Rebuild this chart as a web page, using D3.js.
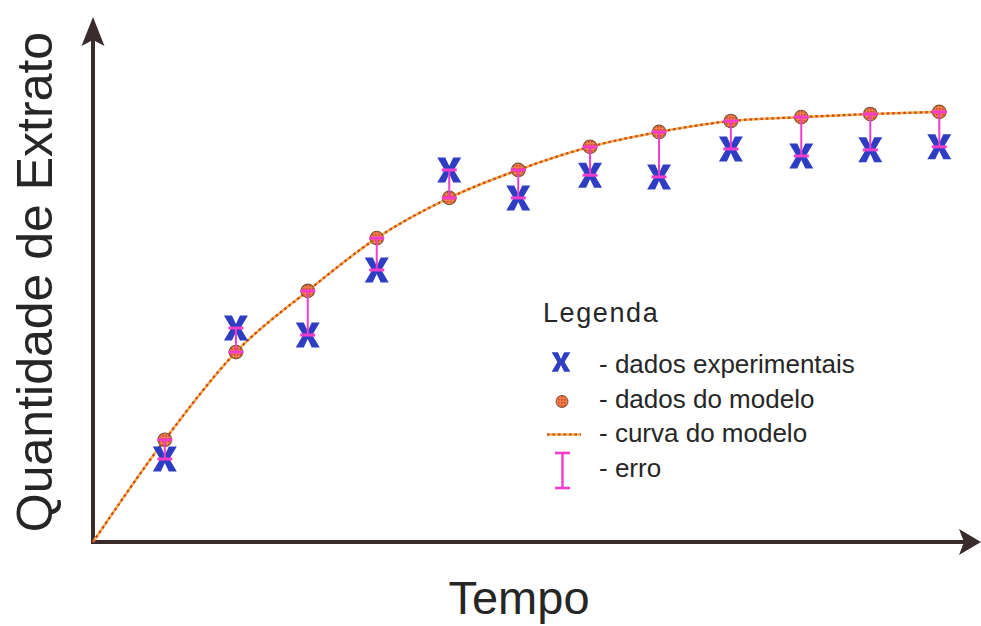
<!DOCTYPE html>
<html>
<head>
<meta charset="utf-8">
<script src="https://cdn.jsdelivr.net/npm/d3@7"></script>
<style>
  html, body { margin: 0; padding: 0; background: #fff; }
  svg { display: block; font-family: "Liberation Sans", Arial, Helvetica, sans-serif; }
</style>
</head>
<body>
<svg id="chart" width="981" height="626"></svg>
<script>
// Sample times (arbitrary time units)
const times = [1.02, 2.03, 3.05, 4.03, 5.06, 6.04, 7.06, 8.04, 9.06, 10.06, 11.04, 12.02];
// Extract quantity predicted by the model
const modelValues = [23.4, 43.5, 57.5, 69.6, 78.8, 85.2, 90.5, 93.9, 96.4, 97.3, 98.0, 98.5];
// Measured extract quantity
const experimentalValues = [19.0, 49.0, 47.4, 62.3, 85.2, 78.8, 84.0, 83.6, 90.0, 88.4, 89.8, 90.5];

const xLabel = "Tempo";
const yLabel = "Quantidade de Extrato";
const legendTitle = "Legenda";
const legendLabels = ["- dados experimentais", "- dados do modelo", "- curva do modelo", "- erro"];

const xMax = 12.57, yMax = 120;

const svg = d3.select("#chart");
const width = 981, height = 626;
svg.append("rect").attr("width", width).attr("height", height).attr("fill", "#fff");

const x = d3.scaleLinear().domain([0, xMax]).range([93, 978]);
const y = d3.scaleLinear().domain([0, yMax]).range([542, 18]);

const axisColor = "#3a2c2c";
const blue = "#2f3dc2";
const pink = "#f23ccb";

// Fill texture for model points
const defs = svg.append("defs");
const pat = defs.append("pattern").attr("id", "dots")
  .attr("width", 3).attr("height", 3).attr("patternUnits", "userSpaceOnUse");
pat.append("rect").attr("width", 3).attr("height", 3).attr("fill", "#f0804c");
pat.append("rect").attr("width", 1.6).attr("height", 1.6).attr("fill", "#d0462a");

// Axes: plain lines without ticks, arrow heads at the ends
const xAxis = d3.axisBottom(x).tickValues([]).tickSizeOuter(0);
const yAxis = d3.axisLeft(y).tickValues([]).tickSizeOuter(0);
svg.append("g").attr("transform", `translate(0,${y(0)})`).call(xAxis)
  .call(g => g.select(".domain").attr("stroke", axisColor).attr("stroke-width", 4)
    .attr("d", `M${x(0) - 2},0H${x(xMax) - 12}`));
svg.append("g").attr("transform", `translate(${x(0)},0)`).call(yAxis)
  .call(g => g.select(".domain").attr("stroke", axisColor).attr("stroke-width", 4)
    .attr("d", `M0,${y(0) + 2}V${y(yMax) + 14}`));

// Arrow heads
const ax = x(0), ay = y(0);
svg.append("path")
  .attr("d", `M${ax},${y(yMax) - 1} L${ax + 11.5},${y(yMax) + 28} L${ax},${y(yMax) + 22} L${ax - 11.5},${y(yMax) + 28} Z`)
  .attr("fill", axisColor);
svg.append("path")
  .attr("d", `M${x(xMax) + 3},${ay} L${x(xMax) - 19},${ay - 13} L${x(xMax) - 14},${ay} L${x(xMax) - 19},${ay + 13} Z`)
  .attr("fill", axisColor);

// Axis titles
svg.append("text")
  .attr("transform", `translate(52,${(y(0) + y(yMax)) / 2 + 2}) rotate(-90)`)
  .attr("text-anchor", "middle")
  .attr("font-size", 50).attr("fill", "#262626")
  .text(yLabel);
svg.append("text")
  .attr("x", 519).attr("y", 614)
  .attr("text-anchor", "middle")
  .attr("font-size", 47).attr("fill", "#262626")
  .text(xLabel);

// Model curve through the origin and the model points
const curvePts = [[0, 0]].concat(times.map((t, i) => [t, modelValues[i]]));
const line = d3.line().x(d => x(d[0])).y(d => y(d[1])).curve(d3.curveMonotoneX);
function dottedCurve(sel, d) {
  sel.append("path").attr("d", d).attr("fill", "none")
    .attr("stroke", "#f5b247").attr("stroke-width", 2.6);
  sel.append("path").attr("d", d).attr("fill", "none")
    .attr("stroke", "#c9442a").attr("stroke-width", 2.2).attr("stroke-dasharray", "2.5,3");
}
dottedCurve(svg.append("g"), line(curvePts));

// Bold X-shaped marker for experimental data
function xShape(s) {
  const p = [[-12,-12.5],[-4,-12.5],[0,-4],[4,-12.5],[12,-12.5],[4.6,0],[12,12.5],[4,12.5],[0,4],[-4,12.5],[-12,12.5],[-4.6,0]];
  return "M" + p.map(q => `${q[0] * s},${q[1] * s}`).join("L") + "Z";
}

// Experimental points
svg.append("g").selectAll("path").data(times).join("path")
  .attr("transform", (t, i) => `translate(${x(t)},${y(experimentalValues[i])})`)
  .attr("d", xShape(1)).attr("fill", blue);

// Model points
svg.append("g").selectAll("circle").data(times).join("circle")
  .attr("cx", t => x(t)).attr("cy", (t, i) => y(modelValues[i]))
  .attr("r", 6.8).attr("fill", "url(#dots)")
  .attr("stroke", "#7d5534").attr("stroke-width", 1.1);

// Error bars between model and experiment
const err = svg.append("g").attr("stroke", pink);
times.forEach((t, i) => {
  const cx = x(t), y1 = y(modelValues[i]), y2 = y(experimentalValues[i]);
  err.append("line").attr("x1", cx).attr("x2", cx).attr("y1", y1).attr("y2", y2).attr("stroke-width", 2);
  [y1, y2].forEach(yy => err.append("line").attr("x1", cx - 7.5).attr("x2", cx + 7.5)
    .attr("y1", yy).attr("y2", yy).attr("stroke-width", 3));
});

// Legend
const lg = svg.append("g");
lg.append("text").attr("x", 543).attr("y", 322).attr("font-size", 27)
  .attr("letter-spacing", 1.6).attr("fill", "#262626").text(legendTitle);
const rowY = [373, 408, 442, 477];
legendLabels.forEach((s, i) => {
  lg.append("text").attr("x", 599).attr("y", rowY[i]).attr("font-size", 26)
    .attr("fill", "#262626").text(s);
});
lg.append("path").attr("transform", "translate(561,362)").attr("d", xShape(0.78)).attr("fill", blue);
lg.append("circle").attr("cx", 562).attr("cy", 401.5).attr("r", 6)
  .attr("fill", "url(#dots)").attr("stroke", "#7d5534").attr("stroke-width", 1);
dottedCurve(lg.append("g"), "M547,434.5H581");
const eg = lg.append("g").attr("stroke", pink);
eg.append("line").attr("x1", 562.5).attr("x2", 562.5).attr("y1", 453).attr("y2", 488).attr("stroke-width", 2.4);
eg.append("line").attr("x1", 555).attr("x2", 570).attr("y1", 453).attr("y2", 453).attr("stroke-width", 2.6);
eg.append("line").attr("x1", 555).attr("x2", 570).attr("y1", 488).attr("y2", 488).attr("stroke-width", 2.6);
</script>
</body>
</html>
